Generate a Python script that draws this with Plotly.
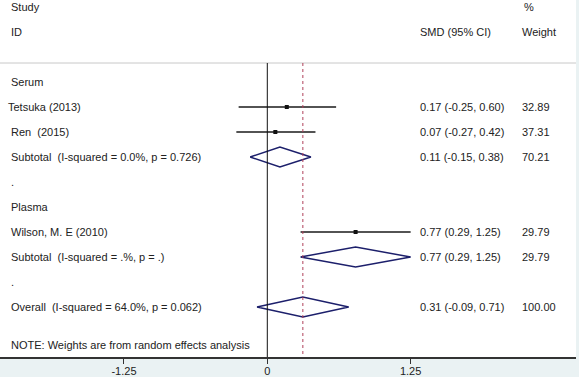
import plotly.graph_objects as go

# ---- data ----
row_labels = ["Serum", "Tetsuka (2013)", "Ren  (2015)",
              "Subtotal  (I-squared = 0.0%, p = 0.726)", ".",
              "Plasma", "Wilson, M. E (2010)",
              "Subtotal  (I-squared = .%, p = .)", ".",
              "Overall  (I-squared = 64.0%, p = 0.062)"]
study_rows = [1, 2, 6]
study_est = [0.17, 0.07, 0.77]
study_lo = [-0.25, -0.27, 0.29]
study_hi = [0.60, 0.42, 1.25]
study_wt = [32.89, 37.31, 29.79]

pool_rows = [3, 7, 9]
pool_est = [0.11, 0.77, 0.31]
pool_lo = [-0.15, 0.29, -0.09]
pool_hi = [0.38, 1.25, 0.71]
pool_wt = [70.21, 29.79, 100.00]

overall_est = 0.31
note = "NOTE: Weights are from random effects analysis"
tick_vals = [-1.25, 0, 1.25]
tick_text = ["-1.25", "0", "1.25"]

FONT = "Liberation Sans, Arial, sans-serif"
TXT = "#222222"
NAVY = "#1c1f6b"

def sp(s):
    return s.replace("  ", "\u00a0 ")

fig = go.Figure()

# CI lines
xs, ys = [], []
for r, lo, hi in zip(study_rows, study_lo, study_hi):
    xs += [lo, hi, None]
    ys += [r, r, None]
fig.add_trace(go.Scatter(x=xs, y=ys, mode="lines",
                         line=dict(color="#1a1a1a", width=1.5),
                         hoverinfo="skip", showlegend=False))
# point estimates
fig.add_trace(go.Scatter(x=study_est, y=study_rows, mode="markers",
                         marker=dict(symbol="square", size=4, color="#111111"),
                         showlegend=False))
# diamonds
dx, dy = [], []
h = 0.4
for r, e, lo, hi in zip(pool_rows, pool_est, pool_lo, pool_hi):
    dx += [lo, e, hi, e, lo, None]
    dy += [r, r - h, r, r + h, r, None]
fig.add_trace(go.Scatter(x=dx, y=dy, mode="lines",
                         line=dict(color=NAVY, width=1.5),
                         hoverinfo="skip", showlegend=False))

ann = []
def addtext(x, y, t):
    ann.append(dict(x=x, y=y, xref="x", yref="y", text=sp(t), showarrow=False,
                    xanchor="left", yanchor="middle",
                    font=dict(family=FONT, size=11, color=TXT)))

X_LAB = -2.252
X_SMD = 1.311
X_WT = 2.203

addtext(X_LAB, -3, "Study")
addtext(X_LAB, -2, "ID")
addtext(X_SMD, -2, "SMD (95% CI)")
addtext(X_WT + 0.015, -3, "%")
addtext(X_WT, -2, "Weight")

for i, lab in enumerate(row_labels):
    x = X_LAB - 0.026 if lab.startswith("Tetsuka") else X_LAB
    addtext(x, i, lab)

for r, e, lo, hi, w in zip(study_rows + pool_rows, study_est + pool_est,
                           study_lo + pool_lo, study_hi + pool_hi,
                           study_wt + pool_wt):
    addtext(X_SMD, r, f"{e:.2f} ({lo:.2f}, {hi:.2f})")
    addtext(X_WT, r, f"{w:.2f}")

addtext(X_LAB, 10.52, note)

shapes = [
    # header separator
    dict(type="line", xref="paper", yref="y", x0=0, x1=1, y0=-0.76, y1=-0.76,
         line=dict(color="#c8c8c8", width=1)),
    # null line
    dict(type="line", xref="x", yref="y", x0=0, x1=0, y0=-0.76, y1=11,
         line=dict(color="#111111", width=1)),
    # overall effect line
    dict(type="line", xref="x", yref="y", x0=overall_est, x1=overall_est,
         y0=-0.76, y1=11, line=dict(color="#b0405a", width=1, dash="3px,3px")),
]

fig.update_layout(
    width=579, height=377,
    margin=dict(l=0, r=3, t=0, b=20, pad=0, autoexpand=False),
    paper_bgcolor="#eaf2f3", plot_bgcolor="white",
    annotations=ann, shapes=shapes, showlegend=False,
    xaxis=dict(range=[-2.331, 2.692], showgrid=False, zeroline=False,
               tickvals=tick_vals, ticktext=tick_text,
               ticks="outside", ticklen=5, tickcolor="#333333", tickwidth=1,
               ticklabelstandoff=-2,
               showline=True, linecolor="#333333", linewidth=1.5,
               tickfont=dict(family=FONT, size=11, color=TXT), fixedrange=True),
    yaxis=dict(range=[11.0, -3.28], showgrid=False, zeroline=False,
               showticklabels=False, ticks="", showline=False, fixedrange=True),
)

fig.write_html("out.html", config={"displayModeBar": False},
               post_script="document.body.style.margin='0';document.body.style.overflow='hidden';")
